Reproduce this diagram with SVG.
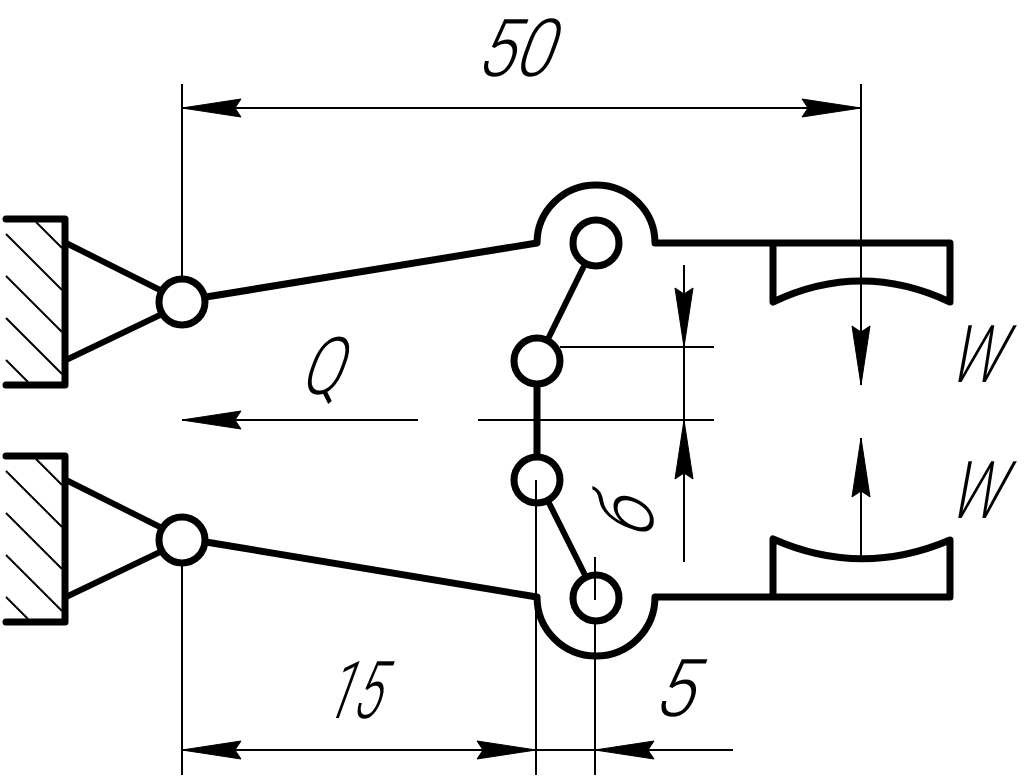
<svg xmlns="http://www.w3.org/2000/svg" width="1029" height="781" viewBox="0 0 1029 781">
<style>
.thick{fill:none;stroke:#000;stroke-width:7;stroke-linecap:round;stroke-linejoin:round}
.link{fill:none;stroke:#000;stroke-width:6;stroke-linecap:round;stroke-linejoin:round}
.joint{fill:#fff;stroke:#000;stroke-width:7}
.thin{fill:none;stroke:#000;stroke-width:2}
.arrow{fill:#000;stroke:#000;stroke-width:1}
.label{font-family:"Roboto","Liberation Sans",sans-serif;font-weight:300;font-size:80px;fill:#000}
</style>
<defs>
<path id="ah" d="M0 0L-59 -9L-53 0L-59 9Z"/>
</defs>
<rect width="1029" height="781" fill="#fff"/>
<g id="connectors">
<g class="thin">
<path d="M182 84V280M861 84V385M182 108H861"/>
<path d="M182 420H418M478 420H714M560 347H714M684 265V562"/>
<path d="M861 438V560"/>
<path d="M182 562V775M595 557V775M182 750H733"/>
</g>
<use href="#ah" class="arrow" transform="translate(182 108) rotate(180)"/>
<use href="#ah" class="arrow" transform="translate(861 108)"/>
<use href="#ah" class="arrow" transform="translate(182 420) rotate(180)"/>
<use href="#ah" class="arrow" transform="translate(684 347) rotate(90)"/>
<use href="#ah" class="arrow" transform="translate(684 420) rotate(-90)"/>
<use href="#ah" class="arrow" transform="translate(861 385) rotate(90)"/>
<use href="#ah" class="arrow" transform="translate(861 438) rotate(-90)"/>
<use href="#ah" class="arrow" transform="translate(182 750) rotate(180)"/>
<use href="#ah" class="arrow" transform="translate(536 750)"/>
<use href="#ah" class="arrow" transform="translate(595 750) rotate(180)"/>
</g>
<g id="support-top">
<path class="thin" d="M36 222L62 248M6 234L62 290M6 276L62 332M6 318L62 374M6 360L28 382"/>
<path class="thick" d="M6 219H65V385H6"/>
<path class="link" d="M66 243L160 290M66 360L160 315"/>
</g>
<g id="support-bottom">
<path class="thin" d="M36 459L62 485M6 471L62 527M6 513L62 569M6 555L62 611M6 597L28 619"/>
<path class="thick" d="M6 456H65V622H6"/>
<path class="link" d="M66 480L160 527M66 597L160 552"/>
</g>
<g id="body-top">
<path class="thick" d="M206 297L537 243A59 58 0 0 1 655 243H950V302Q861 260 773 302V243"/>
<path class="link" d="M583 268L549 337"/>
</g>
<g id="body-bottom">
<path class="thick" d="M206 542L537 597A59 59 0 0 0 655 597H950V540Q861 578 773 539V597"/>
<path class="link" d="M549 503L585 575"/>
<path class="thick" d="M537 386V455"/>
</g>
<g id="joints">
<circle class="joint" cx="182" cy="302" r="23"/>
<circle class="joint" cx="182" cy="540" r="23"/>
<circle class="joint" cx="596" cy="243" r="23"/>
<circle class="joint" cx="537" cy="361" r="23"/>
<circle class="joint" cx="537" cy="480" r="23"/>
<circle class="joint" cx="596" cy="598" r="23"/>
</g>
<path class="thin" d="M536 480V775M595 557V600"/>
<g id="labels">
<text class="label" transform="translate(474 76) skewX(-20) scale(.85 1)">50</text>
<text class="label" transform="translate(298 394) skewX(-20) scale(.75 1)">Q</text>
<text class="label" transform="translate(322 718) skewX(-20) scale(.62 1)">15</text>
<text class="label" transform="translate(651 716) skewX(-20) scale(.9 1)">5</text>
<text class="label" transform="translate(946 382) skewX(-20) scale(.72 1)">W</text>
<text class="label" transform="translate(946 518) skewX(-20) scale(.72 1)">W</text>
<text class="label" transform="translate(653 540) rotate(-90) skewX(-20) scale(.85 1)">б</text>
</g>
</svg>
